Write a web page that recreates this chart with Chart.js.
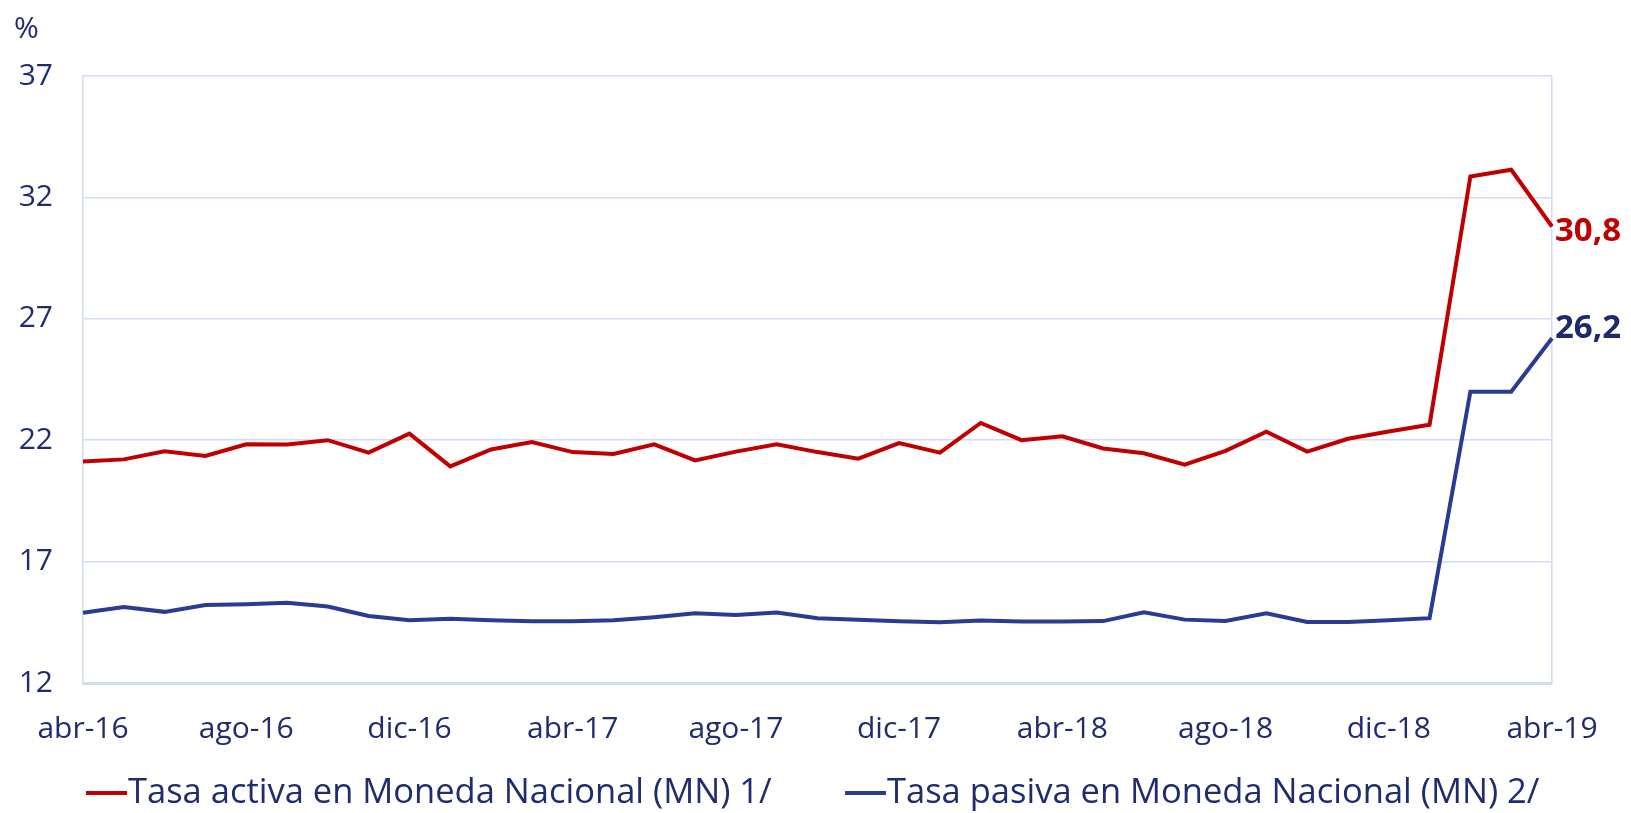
<!DOCTYPE html>
<html>
<head>
<meta charset="utf-8">
<script src="https://cdn.jsdelivr.net/npm/chart.js@4.4.1/dist/chart.umd.min.js"></script>
<style>
html,body{margin:0;padding:0;background:#fff;}
#wrap{width:1631px;height:813px;position:relative;}
</style>
</head>
<body>
<div id="wrap"><canvas id="c" width="1631" height="813"></canvas></div>
<script>
const months = ["abr-16","may-16","jun-16","jul-16","ago-16","sep-16","oct-16","nov-16","dic-16",
"ene-17","feb-17","mar-17","abr-17","may-17","jun-17","jul-17","ago-17","sep-17","oct-17","nov-17","dic-17",
"ene-18","feb-18","mar-18","abr-18","may-18","jun-18","jul-18","ago-18","sep-18","oct-18","nov-18","dic-18",
"ene-19","feb-19","mar-19","abr-19"];
const tickLabels = ["abr-16","ago-16","dic-16","abr-17","ago-17","dic-17","abr-18","ago-18","dic-18","abr-19"];
const tasaActiva = [21.12,21.21,21.54,21.35,21.83,21.82,22.00,21.49,22.27,20.92,21.62,21.92,21.51,
21.43,21.83,21.17,21.53,21.83,21.51,21.24,21.88,21.49,22.71,22.00,
22.16,21.66,21.46,20.99,21.56,22.35,21.53,22.06,22.36,22.64,32.86,33.14,30.8];
const tasaPasiva = [14.89,15.13,14.93,15.21,15.24,15.30,15.15,14.76,14.58,14.65,14.58,14.54,14.54,
14.58,14.71,14.87,14.80,14.90,14.67,14.60,14.54,14.50,14.57,14.53,
14.53,14.55,14.91,14.61,14.55,14.87,14.51,14.51,14.58,14.67,24.0,24.0,26.2];
const yTicks = [12,17,22,27,32,37];
const seriesNames = ["Tasa activa en Moneda Nacional (MN) 1/","Tasa pasiva en Moneda Nacional (MN) 2/"];
const endLabels = ["30,8","26,2"];

const FONT = "'Open Sans', 'Liberation Sans', sans-serif";
const NAVY = "#1F2D6E";
const RED = "#C00000";
const BLUE = "#2B3A92";
const GRID = "#D3DBF3";

const lastLabelPlugin = {
  id: 'lastLabel',
  afterDatasetsDraw(chart) {
    const ctx = chart.ctx;
    const cfg = [{color: RED, dy: 5}, {color: "#1F2A6C", dy: -10}];
    chart.data.datasets.forEach((ds, i) => {
      const meta = chart.getDatasetMeta(i);
      const pt = meta.data[meta.data.length - 1];
      ctx.save();
      ctx.font = "bold 33px " + FONT;
      ctx.fillStyle = cfg[i].color;
      ctx.textAlign = 'left';
      ctx.textBaseline = 'middle';
      ctx.fillText(endLabels[i], pt.x + 3, pt.y + cfg[i].dy);
      ctx.restore();
    });
  }
};
const unitPlugin = {
  id: 'unit',
  afterDraw(chart) {
    const ctx = chart.ctx;
    ctx.save();
    ctx.font = "30px " + FONT;
    ctx.fillStyle = NAVY;
    ctx.textAlign = 'left';
    ctx.textBaseline = 'middle';
    ctx.fillText("%", 14, 29);
    ctx.restore();
  }
};
const legendPlugin = {
  id: 'customLegend',
  afterDraw(chart) {
    const ctx = chart.ctx;
    ctx.save();
    ctx.font = "34.5px " + FONT;
    ctx.textAlign = 'left';
    ctx.textBaseline = 'middle';
    const starts = [86, 845];
    const y = 793;
    chart.data.datasets.forEach((ds, i) => {
      const x = starts[i];
      ctx.fillStyle = ds.borderColor;
      ctx.fillRect(x, y - 2, 41, 4);
      ctx.fillStyle = NAVY;
      ctx.fillText(ds.label, x + 42, y);
    });
    ctx.restore();
  }
};

new Chart(document.getElementById('c'), {
  type: 'line',
  data: {
    labels: months,
    datasets: [
      {label: seriesNames[0], data: tasaActiva, borderColor: RED, backgroundColor: RED, borderWidth: 4, pointRadius: 0, tension: 0},
      {label: seriesNames[1], data: tasaPasiva, borderColor: BLUE, backgroundColor: BLUE, borderWidth: 4, pointRadius: 0, tension: 0}
    ]
  },
  options: {
    responsive: false,
    animation: false,
    layout: {padding: {left: 0, right: 79, top: 76, bottom: 0}},
    plugins: {
      legend: {display: false},
      tooltip: {enabled: false}
    },
    scales: {
      x: {
        type: 'category',
        offset: false,
        grid: {
          drawTicks: false,
          color: (c) => (c.index === months.length - 1 ? GRID : 'rgba(0,0,0,0)'),
          lineWidth: 1.5
        },
        border: {display: true, color: GRID, width: 3},
        ticks: {
          autoSkip: false,
          maxRotation: 0,
          padding: 28,
          color: NAVY,
          font: {family: FONT, size: 30},
          callback: function(v, i) {
            const l = months[i];
            return tickLabels.includes(l) ? l : '';
          }
        },
        afterFit(scale) { scale.height = 130; }
      },
      y: {
        min: 12, max: 37,
        afterBuildTicks(scale) { scale.ticks = yTicks.map(v => ({value: v})); },
        grid: {drawTicks: false, color: GRID, lineWidth: 1.5},
        border: {display: true, color: GRID, width: 1.5},
        ticks: {
          padding: 30,
          color: NAVY,
          font: {family: FONT, size: 30}
        },
        afterFit(scale) { scale.width = 83; }
      }
    }
  },
  plugins: [lastLabelPlugin, unitPlugin, legendPlugin]
});
</script>
</body>
</html>
